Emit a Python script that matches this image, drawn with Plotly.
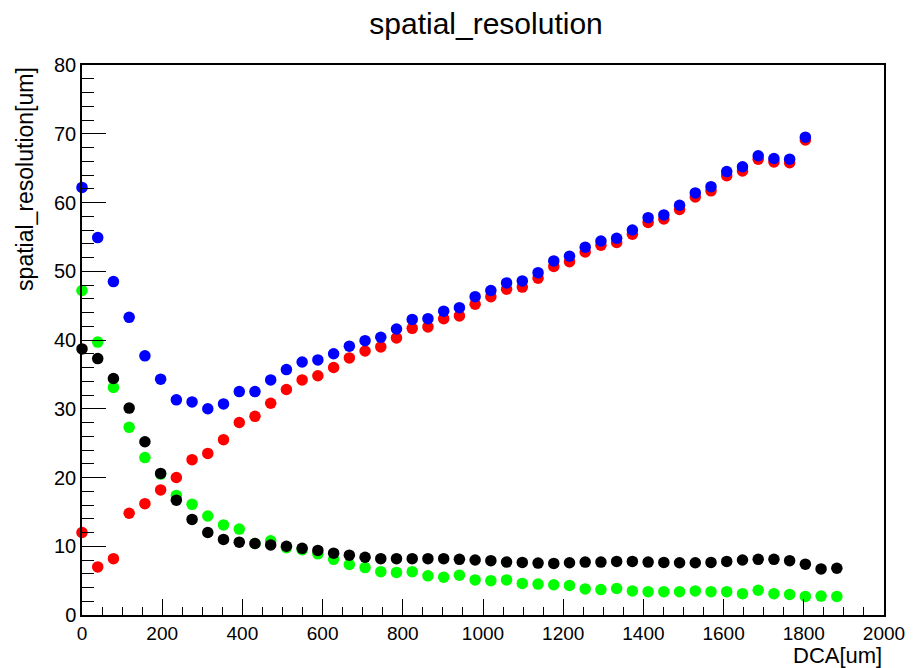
import plotly.graph_objects as go

# DCA bin positions (um)
dca = [0, 39.2, 78.4, 117.6, 156.9, 196.1, 235.3, 274.5, 313.7, 352.9,
       392.2, 431.4, 470.6, 509.8, 549.0, 588.2, 627.5, 666.7, 705.9, 745.1,
       784.3, 823.5, 862.7, 902.0, 941.2, 980.4, 1019.6, 1058.8, 1098.0, 1137.3,
       1176.5, 1215.7, 1254.9, 1294.1, 1333.3, 1372.5, 1411.8, 1451.0, 1490.2, 1529.4,
       1568.6, 1607.8, 1647.1, 1686.3, 1725.5, 1764.7, 1803.9, 1843.1, 1882.4]

red = [12.0, 7.0, 8.2, 14.8, 16.2, 18.2, 20.0, 22.6, 23.5, 25.5,
       28.0, 28.9, 30.8, 32.8, 34.2, 34.8, 36.0, 37.4, 38.4, 39.0,
       40.3, 41.7, 41.9, 43.1, 43.5, 45.2, 46.3, 47.4, 47.7, 49.0,
       50.7, 51.4, 52.8, 53.8, 54.2, 55.4, 57.1, 57.6, 59.0, 60.8,
       61.7, 63.9, 64.6, 66.3, 65.9, 65.8, 69.1]

blue = [62.2, 54.9, 48.5, 43.3, 37.7, 34.3, 31.3, 31.0, 30.0, 30.7,
        32.5, 32.5, 34.2, 35.7, 36.8, 37.1, 38.0, 39.1, 39.9, 40.4,
        41.6, 43.0, 43.1, 44.2, 44.7, 46.3, 47.2, 48.3, 48.6, 49.8,
        51.5, 52.2, 53.5, 54.4, 54.8, 56.0, 57.8, 58.2, 59.6, 61.4,
        62.3, 64.5, 65.2, 66.8, 66.4, 66.3, 69.5]

green = [47.2, 39.7, 33.1, 27.3, 22.9, 20.5, 17.4, 16.1, 14.4, 13.1,
         12.5, 10.4, 10.8, 9.8, 9.5, 8.9, 8.1, 7.35, 6.9, 6.3,
         6.2, 6.3, 5.7, 5.5, 5.8, 5.1, 5.0, 5.1, 4.6, 4.5,
         4.4, 4.3, 3.8, 3.7, 3.85, 3.5, 3.4, 3.4, 3.4, 3.5,
         3.4, 3.4, 3.1, 3.6, 3.1, 3.0, 2.7, 2.75, 2.7]

black = [38.7, 37.3, 34.4, 30.1, 25.2, 20.6, 16.7, 13.9, 12.0, 11.0,
         10.6, 10.4, 10.2, 10.0, 9.7, 9.4, 9.0, 8.7, 8.4, 8.2,
         8.2, 8.2, 8.2, 8.2, 8.1, 8.0, 7.9, 7.7, 7.65, 7.55,
         7.5, 7.6, 7.7, 7.7, 7.8, 7.8, 7.7, 7.65, 7.6, 7.6,
         7.65, 7.8, 8.0, 8.1, 8.1, 7.9, 7.4, 6.7, 6.8]

x_ticks = [0, 200, 400, 600, 800, 1000, 1200, 1400, 1600, 1800, 2000]
y_ticks = [0, 10, 20, 30, 40, 50, 60, 70, 80]

FONT = "Liberation Sans, Arial, Helvetica, sans-serif"

fig = go.Figure()
series = [(green, dca[:len(green)], "#00ff00"),
          (black, dca[:len(black)], "#000000"),
          (red, dca[:len(red)], "#ff0000"),
          (blue, dca[:len(blue)], "#0000ff")]
for ys, xs, col in series:
    fig.add_trace(go.Scatter(x=xs, y=ys, mode="markers",
                             marker=dict(color=col, size=11.5, line=dict(width=0)),
                             showlegend=False, cliponaxis=False))

fig.update_layout(
    width=917, height=668,
    margin=dict(l=82, r=27, t=65, b=52.5),
    paper_bgcolor="white", plot_bgcolor="white",
    font=dict(family=FONT, size=20, color="black"),
    title=dict(text="spatial_resolution", x=0.530, xanchor="center", y=0.965, yanchor="middle",
               font=dict(size=30, family=FONT, color="black")),
    xaxis=dict(range=[0, 2000], tickvals=x_ticks, ticks="inside", ticklen=16, tickwidth=1,
               tickcolor="black", showgrid=False, zeroline=False, showline=True,
               linecolor="black", linewidth=1.5, mirror=True,
               minor=dict(dtick=50, ticks="inside", ticklen=8, tickcolor="black", tickwidth=1, showgrid=False),
               tickfont=dict(size=19), ticklabelstandoff=0),
    yaxis=dict(range=[0, 80], tickvals=y_ticks, ticks="inside", ticklen=24, tickwidth=1,
               tickcolor="black", showgrid=False, zeroline=False, showline=True,
               linecolor="black", linewidth=1.5, mirror=True,
               minor=dict(dtick=2, ticks="inside", ticklen=12, tickcolor="black", tickwidth=1, showgrid=False),
               tickfont=dict(size=20), ticklabelstandoff=0),
    annotations=[
        dict(text="DCA[um]", xref="paper", yref="paper", x=1.0, y=-0.074,
             xanchor="right", yanchor="middle", showarrow=False, font=dict(size=22)),
        dict(text="spatial_resolution[um]", xref="paper", yref="paper", x=-0.0712, y=1.0,
             xanchor="center", yanchor="top", textangle=-90, showarrow=False, font=dict(size=23)),
    ],
)

fig.write_html("out.html")
